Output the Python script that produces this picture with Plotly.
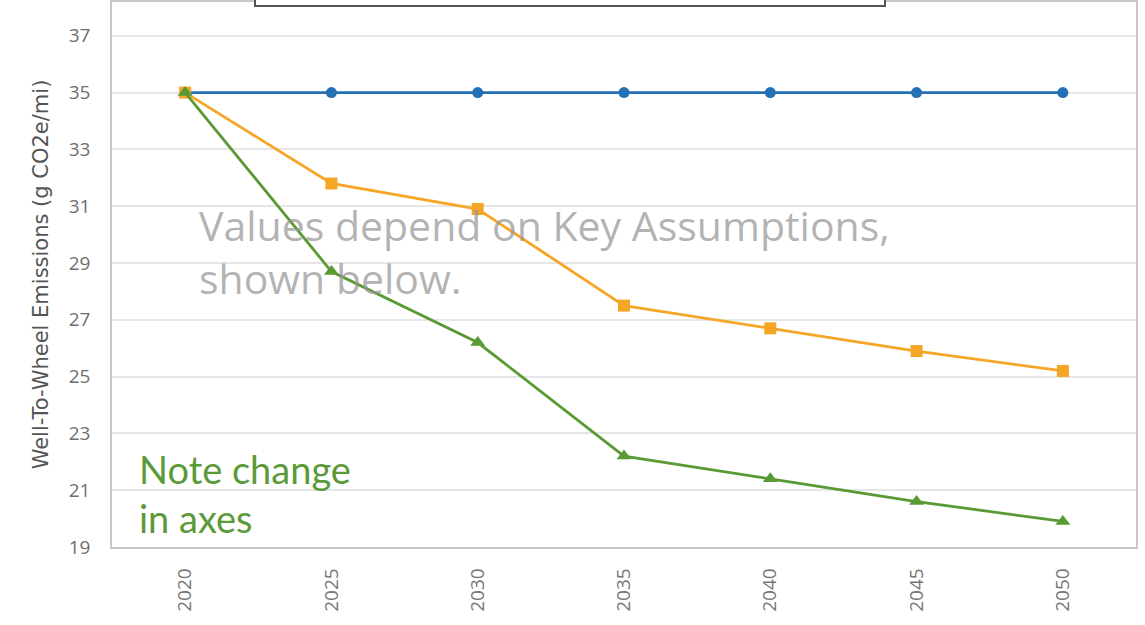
import plotly.graph_objects as go

years = [2020, 2025, 2030, 2035, 2040, 2045, 2050]
baseline = [35, 35, 35, 35, 35, 35, 35]
scenario_orange = [35, 31.8, 30.9, 27.5, 26.7, 25.9, 25.2]
scenario_green = [35, 28.7, 26.2, 22.2, 21.4, 20.6, 19.9]
y_ticks = [19, 21, 23, 25, 27, 29, 31, 33, 35, 37]

fig = go.Figure()
fig.add_trace(go.Scatter(x=years, y=baseline, mode="lines+markers",
                         line=dict(color="#2370b6", width=2.8),
                         marker=dict(symbol="circle", size=11, color="#2370b6")))
fig.add_trace(go.Scatter(x=years, y=scenario_orange, mode="lines+markers",
                         line=dict(color="#f5a626", width=2.8),
                         marker=dict(symbol="square", size=12, color="#f5a626")))
fig.add_trace(go.Scatter(x=years, y=scenario_green, mode="lines+markers",
                         line=dict(color="#5a9a35", width=2.8),
                         marker=dict(symbol="triangle-up", size=13, color="#5a9a35")))

fig.update_layout(
    width=1145, height=625,
    margin=dict(l=112, r=9, t=0, b=78),
    paper_bgcolor="white", plot_bgcolor="white",
    showlegend=False,
    font=dict(family="Open Sans, sans-serif", color="#666666"),
    xaxis=dict(range=[2017.5, 2052.5], tickvals=years, ticktext=[str(y) for y in years],
               tickangle=-90, tickfont=dict(size=19, color="#777777"),
               showgrid=False, showline=True, linecolor="#c8c8c8", linewidth=1.5,
               mirror=True, zeroline=False, ticks="", ticklabelstandoff=12),
    yaxis=dict(range=[19, 38.19], tickvals=y_ticks, tickfont=dict(size=19, color="#6e6e6e"),
               showgrid=True, gridcolor="#e6e6e6", gridwidth=1.5,
               showline=True, linecolor="#c8c8c8", linewidth=1.5, mirror=True,
               zeroline=False, ticks="", ticklabelstandoff=16,
               title=dict(text="Well-To-Wheel Emissions (g CO2e/mi)",
                          font=dict(size=21, color="#555555", family="DejaVu Sans, sans-serif"),
                          standoff=14)),
)

gray_txt = dict(size=41, color="rgba(150,150,150,0.72)", family="Open Sans, sans-serif")
fig.add_annotation(xref="paper", yref="paper", x=(197 - 112) / 1024, y=1 - 250 / 547,
                   xanchor="left", yanchor="middle", align="left", showarrow=False,
                   text="Values depend on Key Assumptions,<br>shown below.", font=gray_txt)

green_txt = dict(size=38, color="#5a9a38", family="Lato, sans-serif")
fig.add_annotation(xref="paper", yref="paper", x=(137 - 112) / 1024, y=1 - 493 / 547,
                   xanchor="left", yanchor="middle", align="left", showarrow=False,
                   text="Note change<br>in axes", font=green_txt)

fig.add_shape(type="rect", xref="paper", yref="paper",
              x0=(255 - 112) / 1024, x1=(885 - 112) / 1024, y0=1 - 4 / 547, y1=1.05,
              line=dict(color="#555555", width=2), fillcolor="white", layer="above")

fig.write_html("out.html", config={"displayModeBar": False},
               post_script="document.body.style.margin='0';window.dispatchEvent(new Event('resize'));")
